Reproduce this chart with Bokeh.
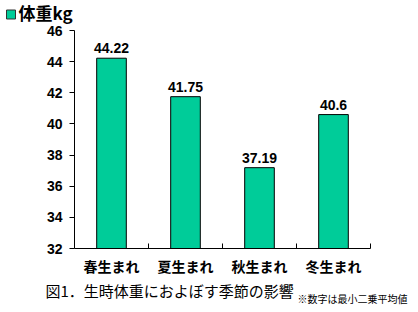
from bokeh.plotting import figure
from bokeh.layouts import column, row
from bokeh.models import (ColumnDataSource, LabelSet, Label, FixedTicker, Range1d)
from bokeh.core.properties import value
from bokeh.embed import file_html
from bokeh.resources import INLINE

categories = ["春生まれ", "夏生まれ", "秋生まれ", "冬生まれ"]
weights = [44.22, 41.75, 37.19, 40.6]
value_labels = ["44.22", "41.75", "37.19", "40.6"]
y_ticks = [32, 34, 36, 38, 40, 42, 44, 46]
series_name = "体重kg"
caption = "図1．生時体重におよぼす季節の影響"
note = "※数字は最小二乗平均値"

JP = "Noto Sans CJK JP"
NUM = "Liberation Sans"
GREEN = "#00CC99"
W = 418
HEAD_H = 24
FOOT_H = 32
MAIN_H = 312 - HEAD_H - FOOT_H

centers = [i + 0.5 for i in range(len(categories))]
src = ColumnDataSource(dict(
    x=centers,
    top=weights,
    lab=value_labels,
    base=[y_ticks[0]] * len(categories),
))


def blank_fig(h):
    f = figure(width=W, height=h, output_backend="svg", toolbar_location=None,
               x_axis_location=None, y_axis_location=None,
               x_range=Range1d(0, W), y_range=Range1d(0, h),
               min_border_left=0, min_border_right=0, min_border_top=0, min_border_bottom=0,
               background_fill_color="white", border_fill_color="white")
    f.outline_line_color = None
    f.grid.visible = False
    return f


# ---------------- header (legend) ----------------
head = blank_fig(HEAD_H)
head.scatter(x=[10.5], y=[HEAD_H - 14], marker="square", size=9,
             fill_color=GREEN, line_color="#333333", line_width=1)
head.add_layout(Label(x=18, y=HEAD_H - 12, x_units="screen", y_units="screen",
                      text=series_name, text_baseline="middle", text_align="left",
                      text_font=JP, text_font_style="bold", text_font_size="17px",
                      text_color="black"))

# ---------------- main chart ----------------
p = figure(width=W, height=MAIN_H, output_backend="svg", toolbar_location=None,
           x_range=Range1d(0, len(categories)), y_range=Range1d(y_ticks[0], y_ticks[-1]),
           min_border_left=74, min_border_right=48, min_border_top=30 - HEAD_H,
           min_border_bottom=MAIN_H - (30 - HEAD_H) - 218,
           background_fill_color="white", border_fill_color="white")
p.outline_line_color = None
p.grid.visible = False

p.vbar(x="x", top="top", bottom="base", width=0.4, source=src,
       fill_color=GREEN, line_color="black", line_width=1)

ya = p.yaxis[0]
ya.ticker = FixedTicker(ticks=y_ticks)
ya.major_tick_out = 5
ya.major_tick_in = 0
ya.minor_tick_line_color = None
ya.axis_line_color = "black"
ya.major_label_text_font = NUM
ya.major_label_text_font_style = "bold"
ya.major_label_text_font_size = "14px"
ya.major_label_text_color = "black"
ya.major_label_standoff = 7

xa = p.xaxis[0]
xa.ticker = FixedTicker(ticks=centers, minor_ticks=list(range(1, len(categories) + 1)))
xa.major_label_overrides = {c: name for c, name in zip(centers, categories)}
xa.major_tick_in = 0
xa.major_tick_out = 0
xa.major_tick_line_color = None
xa.minor_tick_in = 5
xa.minor_tick_out = 0
xa.minor_tick_line_color = "black"
xa.axis_line_color = "black"
xa.major_label_text_font = JP
xa.major_label_text_font_style = "bold"
xa.major_label_text_font_size = "14px"
xa.major_label_text_color = "black"
xa.major_label_standoff = 7

p.add_layout(LabelSet(x="x", y="top", text="lab", source=src, y_offset=5,
                      text_align="center", text_baseline="bottom",
                      text_font=value(NUM), text_font_style="bold",
                      text_font_size="14px", text_color="black"))

# ---------------- footer (caption + note) ----------------
foot = blank_fig(FOOT_H)
foot.add_layout(Label(x=45, y=312 - 290, x_units="screen", y_units="screen", text=caption,
                      text_baseline="middle", text_align="left",
                      text_font=JP, text_font_size="15px", text_color="black"))
foot.add_layout(Label(x=297, y=312 - 298, x_units="screen", y_units="screen", text=note,
                      text_baseline="middle", text_align="left",
                      text_font=JP, text_font_size="10px", text_color="black"))

layout = column(row(head), row(p), row(foot), spacing=0)
open("out.html", "w").write(file_html(layout, INLINE))
